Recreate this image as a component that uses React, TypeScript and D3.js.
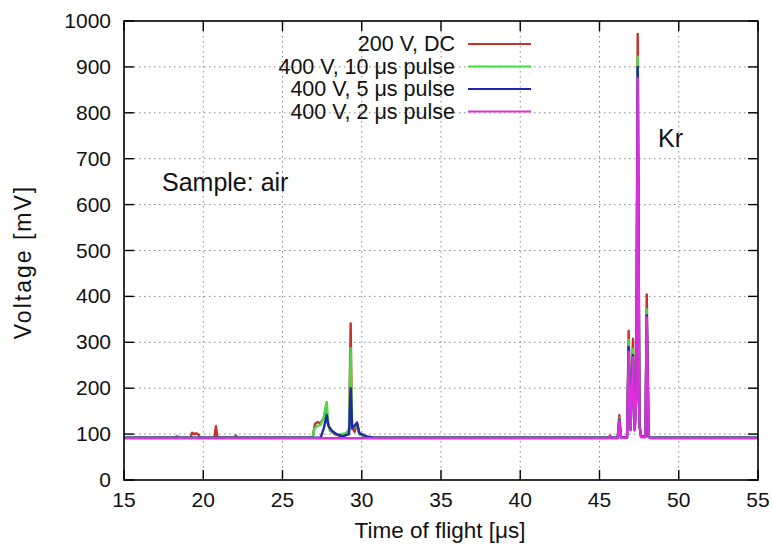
import * as d3 from 'd3';

// time of flight [µs], voltage [mV]
const dcPoints: [number, number][] = [
  [15, 92], [18.2, 92], [18.35, 95], [18.5, 92], [19.2, 92], [19.3, 103], [19.45, 100], [19.55, 102],
  [19.7, 99], [19.8, 92], [20.7, 92], [20.8, 117], [20.9, 93], [22.0, 92], [22.05, 97], [22.15, 92],
  [26.9, 92], [27.05, 122], [27.2, 126], [27.4, 124], [27.6, 135], [27.75, 160], [27.85, 125],
  [28.0, 108], [28.3, 100], [28.6, 96], [29.0, 100], [29.2, 110], [29.3, 341], [29.38, 115],
  [29.55, 105], [29.7, 125], [29.85, 100], [30.2, 95], [30.5, 92], [45.6, 92], [45.66, 97],
  [45.72, 92], [46.15, 92], [46.25, 141], [46.35, 93], [46.74, 93], [46.84, 325], [46.96, 110],
  [47.11, 308], [47.22, 110], [47.32, 180], [47.41, 972], [47.52, 120], [47.62, 95], [47.9, 95],
  [47.98, 404], [48.1, 95], [48.2, 92], [55, 92],
];

const pulse10Points: [number, number][] = [
  [15, 92], [26.9, 92], [27.0, 112], [27.2, 118], [27.4, 120], [27.6, 135], [27.79, 170],
  [27.88, 125], [28.0, 108], [28.5, 98], [29.0, 102], [29.2, 108], [29.3, 287], [29.38, 112],
  [29.7, 120], [29.85, 100], [30.5, 92], [46.15, 92], [46.25, 135], [46.35, 93], [46.74, 93],
  [46.84, 305], [46.96, 110], [47.11, 285], [47.22, 110], [47.32, 180], [47.41, 922], [47.52, 120],
  [47.62, 95], [47.9, 95], [47.98, 372], [48.1, 95], [48.2, 92], [55, 92],
];

const pulse5Points: [number, number][] = [
  [15, 92], [27.4, 92], [27.6, 112], [27.79, 141], [27.9, 118], [28.1, 108], [28.4, 100],
  [28.8, 95], [29.2, 100], [29.3, 200], [29.4, 112], [29.7, 125], [29.85, 102], [30.3, 95],
  [30.8, 92], [46.15, 92], [46.25, 132], [46.35, 93], [46.74, 93], [46.84, 290], [46.96, 110],
  [47.11, 272], [47.22, 110], [47.32, 180], [47.41, 900], [47.52, 120], [47.62, 95], [47.9, 95],
  [47.98, 359], [48.1, 95], [48.2, 92], [55, 92],
];

const pulse2Points: [number, number][] = [
  [15, 91], [45.6, 91], [45.66, 95], [45.72, 91], [46.15, 91], [46.25, 130], [46.35, 92],
  [46.74, 92], [46.84, 279], [46.96, 108], [47.11, 267], [47.22, 108], [47.32, 175], [47.41, 875],
  [47.52, 118], [47.62, 93], [47.9, 93], [47.98, 354], [48.1, 93], [48.2, 91], [55, 91],
];

const seriesNames = ['200 V, DC', '400 V, 10 μs pulse', '400 V, 5 μs pulse', '400 V, 2 μs pulse'];
const seriesColors = ['#c8302c', '#44dd44', '#1f28a8', '#dc30dc'];
const seriesData = [dcPoints, pulse10Points, pulse5Points, pulse2Points];

const xTicks = [15, 20, 25, 30, 35, 40, 45, 50, 55];
const yTicks = [0, 100, 200, 300, 400, 500, 600, 700, 800, 900, 1000];

const W = 772;
const H = 549;
const left = 124;
const right = 758;
const top = 21;
const bottom = 480;
const font = '"Liberation Sans", Arial, sans-serif';

export default function App() {
  const x = d3.scaleLinear().domain([15, 55]).range([left, right]);
  const y = d3.scaleLinear().domain([0, 1000]).range([bottom, top]);
  const line = d3
    .line<[number, number]>()
    .x(d => x(d[0]))
    .y(d => y(d[1]));

  return (
    <svg width={W} height={H} style={{ position: 'absolute', left: 0, top: 0, background: '#fff' }} fontFamily={font}>
      {/* grid */}
      {xTicks.slice(1, -1).map(t => (
        <line key={'gx' + t} x1={x(t)} x2={x(t)} y1={top} y2={bottom} stroke="#888" strokeWidth={1} strokeDasharray="1.5,3.5" />
      ))}
      {yTicks.slice(1, -1).map(t => (
        <line key={'gy' + t} x1={left} x2={right} y1={y(t)} y2={y(t)} stroke="#888" strokeWidth={1} strokeDasharray="1.5,3.5" />
      ))}

      {/* series */}
      <g clipPath="url(#plotclip)">
        {seriesData.map((pts, i) => (
          <path key={i} d={line(pts) || ''} fill="none" stroke={seriesColors[i]} strokeWidth={2.4} strokeLinejoin="round" />
        ))}
      </g>
      <defs>
        <clipPath id="plotclip">
          <rect x={left} y={top} width={right - left} height={bottom - top} />
        </clipPath>
      </defs>

      {/* frame + ticks */}
      <rect x={left} y={top} width={right - left} height={bottom - top} fill="none" stroke="#000" strokeWidth={1.6} />
      {xTicks.map(t => (
        <g key={'tx' + t}>
          <line x1={x(t)} x2={x(t)} y1={bottom} y2={bottom - 10} stroke="#000" strokeWidth={1.4} />
          <line x1={x(t)} x2={x(t)} y1={top} y2={top + 10} stroke="#000" strokeWidth={1.4} />
          <text x={x(t)} y={bottom + 27} textAnchor="middle" fontSize={21} fill="#111">{t}</text>
        </g>
      ))}
      {yTicks.map(t => (
        <g key={'ty' + t}>
          <line x1={left} x2={left + 10} y1={y(t)} y2={y(t)} stroke="#000" strokeWidth={1.4} />
          <line x1={right} x2={right - 10} y1={y(t)} y2={y(t)} stroke="#000" strokeWidth={1.4} />
          <text x={111} y={y(t) + 7} textAnchor="end" fontSize={21} fill="#111">{t}</text>
        </g>
      ))}

      {/* axis titles */}
      <text x={440} y={538} textAnchor="middle" fontSize={22.5} fill="#111">Time of flight [μs]</text>
      <text transform={`translate(31,262) rotate(-90)`} textAnchor="middle" fontSize={23} letterSpacing={2} fill="#111">Voltage [mV]</text>

      {/* legend */}
      {seriesNames.map((n, i) => (
        <g key={n}>
          <text x={455} y={51 + i * 22.5} textAnchor="end" fontSize={21.5} fill="#111">{n}</text>
          <line x1={468} x2={531} y1={44 + i * 22.5} y2={44 + i * 22.5} stroke={seriesColors[i]} strokeWidth={2} />
        </g>
      ))}

      {/* annotations */}
      <text x={162} y={191} fontSize={25} fill="#111">Sample: air</text>
      <text x={658} y={147} fontSize={25} fill="#111">Kr</text>
    </svg>
  );
}
